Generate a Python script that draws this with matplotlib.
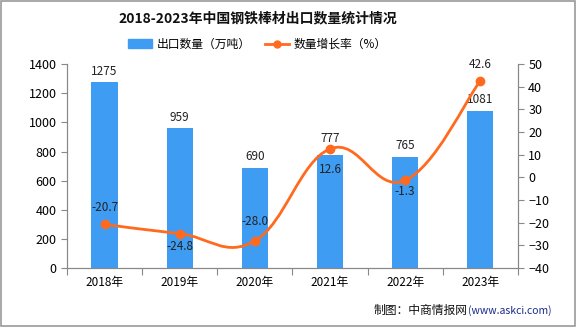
import matplotlib.pyplot as plt
import numpy as np
from matplotlib.path import Path
from matplotlib.patches import PathPatch, Rectangle
from matplotlib.lines import Line2D

plt.rcParams['font.family'] = ['Noto Sans CJK SC', 'DejaVu Sans']

# 数据
years = ['2018年', '2019年', '2020年', '2021年', '2022年', '2023年']
export_qty = [1275, 959, 690, 777, 765, 1081]
growth = [-20.7, -24.8, -28.0, 12.6, -1.3, 42.6]

# 标签偏移(points)，正数在上，负数在下
bar_label_dy = [8, 8, 8, 12, 8, 8]
growth_label_dy = [12, -9, 14, -15, -8, 12]

bar_color = '#3E9DF2'
line_color = '#FF6A1F'

fig = plt.figure(figsize=(5.76, 3.27), dpi=100)
ax1 = fig.add_axes([0.1163, 0.180, 0.7827, 0.624])
ax2 = ax1.twinx()

x = np.arange(len(years))
ax1.bar(x, export_qty, width=0.35, color=bar_color, zorder=2)
for xi, v, dy in zip(x, export_qty, bar_label_dy):
    ax1.annotate(str(v), (xi, v), xytext=(0, dy), textcoords='offset points',
                 ha='center', va='center', fontsize=8.5, color='#222222')

ax1.set_xlim(-0.5, len(years) - 0.5)
ax1.set_ylim(0, 1400)
ax1.set_yticks(range(0, 1401, 200))
ax1.set_xticks(np.arange(-0.5, len(years), 1))
ax1.set_xticklabels([])
ax1.set_xticks(x, minor=True)
ax1.set_xticklabels(years, minor=True)
ax1.tick_params(axis='x', which='minor', length=0, labelsize=8.5, pad=6)
ax1.tick_params(axis='x', which='major', length=5, color='#888888')
ax1.tick_params(axis='y', labelsize=9, length=4, color='#888888')

ax2.set_ylim(-40, 50)
ax2.set_yticks(range(-40, 51, 10))
ax2.tick_params(axis='y', labelsize=9, length=4, color='#888888')

for a in (ax1, ax2):
    a.spines['top'].set_visible(False)
    for s in ('left', 'right', 'bottom'):
        a.spines[s].set_color('#888888')

# 平滑曲线：三次贝塞尔
pts = np.column_stack([x, growth]).astype(float)
verts = [tuple(pts[0])]
codes = [Path.MOVETO]
t = 0.2
for i in range(len(pts) - 1):
    p0 = pts[i - 1] if i > 0 else pts[i]
    p1, p2 = pts[i], pts[i + 1]
    p3 = pts[i + 2] if i + 2 < len(pts) else pts[i + 1]
    c1 = p1 + (p2 - p0) * t
    c2 = p2 - (p3 - p1) * t
    verts += [tuple(c1), tuple(c2), tuple(p2)]
    codes += [Path.CURVE4] * 3
ax2.add_patch(PathPatch(Path(verts, codes), fill=False, edgecolor=line_color, lw=2, zorder=3))
ax2.plot(x, growth, 'o', color=line_color, ms=6, zorder=4)
for xi, g, dy in zip(x, growth, growth_label_dy):
    ax2.annotate(f'{g:.1f}', (xi, g), xytext=(0, dy), textcoords='offset points',
                 ha='center', va='center', fontsize=8.5, color='#222222', zorder=5)

fig.text(0.447, 0.945, '2018-2023年中国钢铁棒材出口数量统计情况', ha='center', va='center',
         fontsize=10, fontweight='bold', color='#111111')

handles = [Rectangle((0, 0), 1, 1, color=bar_color),
           Line2D([], [], color=line_color, lw=2, marker='o', ms=5)]
fig.legend(handles, ['出口数量（万吨）', '数量增长率（%）'], loc='center', ncol=2,
           bbox_to_anchor=(0.447, 0.865), frameon=False, fontsize=8.5,
           handlelength=2.0, columnspacing=1.2, handletextpad=0.4)

# 来源
url = fig.text(0.957, 0.05, '(www.askci.com)', ha='right', va='center', fontsize=7.5,
               color='#1a2a8a')
ax1.annotate('制图：中商情报网', xy=(0, 0.5), xycoords=url, ha='right', va='center',
             fontsize=8.5, color='#111111', annotation_clip=False)

fig.patches.append(Rectangle((0.001, 0.002), 0.997, 0.996, transform=fig.transFigure,
                             fill=False, edgecolor='#999999', lw=1.2))

fig.savefig('out.png', dpi=100)
